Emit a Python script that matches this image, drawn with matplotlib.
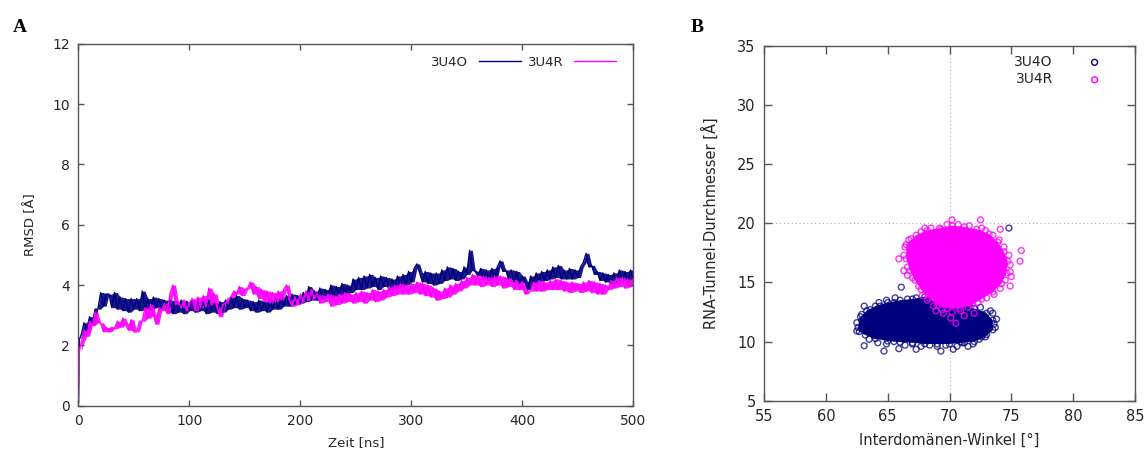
#!/usr/bin/env python3
"""RMSD trajectory (A) and tunnel diameter vs. interdomain angle (B) for 3U4O / 3U4R."""
import matplotlib
matplotlib.use("Agg")
import matplotlib.pyplot as plt
import numpy as np

NAVY = "#00007f"
MAGENTA = "#ff00ff"
TXT = "#262626"
SPINE = "#555555"

# ---- panel A: RMSD over time (values read every 2.5 ns) ----
time_start = [0.0, 0.8]
time_step = 2.5
rmsd_3u4o_start = [0.1, 2.2]
rmsd_3u4r_start = [0.1, 1.8]
rmsd_3u4o = [
    2.35, 2.75, 2.5, 2.95, 2.7, 3.2, 3.2, 3.75, 3.3, 3.7,
    3.7, 3.25, 3.75, 3.2, 3.6, 3.15, 3.55, 3.1, 3.55, 3.2,
    3.55, 3.15, 3.8, 3.2, 3.55, 3.2, 3.6, 3.25, 3.55, 3.2,
    3.5, 3.1, 3.5, 3.05, 3.45, 3.1, 3.5, 3.05, 3.45, 3.15,
    3.5, 3.1, 3.5, 3.15, 3.45, 3.05, 3.5, 3.1, 3.4, 3.05,
    3.45, 3.1, 3.5, 3.2, 3.6, 3.25, 3.65, 3.2, 3.55, 3.25,
    3.5, 3.15, 3.45, 3.1, 3.5, 3.15, 3.45, 3.1, 3.5, 3.2,
    3.55, 3.2, 3.6, 3.3, 3.65, 3.3, 3.7, 3.35, 3.65, 3.4,
    3.75, 3.45, 3.95, 3.5, 3.8, 3.5, 3.9, 3.55, 3.85, 3.6,
    4.0, 3.6, 3.95, 3.65, 4.05, 3.7, 4.0, 3.75, 4.2, 3.85,
    4.25, 3.85, 4.3, 3.9, 4.35, 3.95, 4.25, 3.85, 4.3, 3.95,
    4.25, 3.85, 4.2, 3.9, 4.3, 3.95, 4.35, 4.0, 4.45, 4.1,
    4.55, 4.7, 4.4, 4.1, 4.45, 4.05, 4.4, 4.0, 4.4, 4.05,
    4.5, 4.15, 4.6, 4.2, 4.55, 4.15, 4.45, 4.2, 4.6, 4.35,
    5.15, 4.5, 4.45, 4.3, 4.55, 4.2, 4.5, 4.15, 4.55, 4.2,
    4.6, 4.8, 4.45, 4.5, 4.2, 4.5, 4.1, 4.45, 4.05, 4.3,
    4.1, 3.85, 4.3, 4.05, 4.4, 4.1, 4.45, 4.15, 4.5, 4.2,
    4.6, 4.25, 4.65, 4.2, 4.5, 4.2, 4.55, 4.2, 4.5, 4.25,
    4.6, 4.75, 5.05, 4.6, 4.65, 4.35, 4.45, 4.15, 4.4, 4.1,
    4.35, 4.05, 4.4, 4.1, 4.5, 4.15, 4.45, 4.1, 4.5, 4.2,
]
rmsd_3u4r = [
    2.1, 2.5, 2.3, 2.8, 2.65, 3.1, 2.75, 2.75, 2.45, 2.6,
    2.45, 2.6, 2.55, 2.8, 2.6, 2.9, 2.7, 2.5, 2.85, 2.45,
    2.45, 2.8, 2.8, 3.25, 2.9, 3.35, 3.0, 2.7, 3.25, 3.15,
    3.4, 3.05, 3.7, 4.0, 3.35, 3.45, 3.25, 3.5, 3.15, 3.4,
    3.55, 3.15, 3.6, 3.25, 3.65, 3.3, 3.9, 3.35, 3.7, 3.25,
    2.95, 3.35, 3.4, 3.55, 3.6, 3.8, 3.7, 3.95, 3.65, 3.85,
    3.9, 4.1, 3.7, 3.95, 3.55, 3.85, 3.45, 3.8, 3.4, 3.75,
    3.45, 3.8, 3.5, 3.85, 4.0, 3.5, 3.3, 3.6, 3.35, 3.7,
    3.45, 3.8, 3.5, 3.85, 3.55, 3.7, 3.4, 3.65, 3.45, 3.7,
    3.3, 3.65, 3.35, 3.7, 3.4, 3.75, 3.45, 3.7, 3.4, 3.75,
    3.45, 3.8, 3.4, 3.75, 3.5, 3.85, 3.45, 3.8, 3.5, 3.85,
    3.6, 3.95, 3.65, 4.0, 3.7, 4.05, 3.7, 4.0, 3.7, 4.05,
    3.75, 4.1, 3.7, 4.05, 3.65, 4.0, 3.6, 3.9, 3.5, 3.8,
    3.55, 3.9, 3.6, 4.0, 3.7, 4.05, 3.8, 4.15, 3.9, 4.25,
    4.0, 4.35, 4.0, 4.3, 3.95, 4.3, 4.0, 4.25, 3.95, 4.3,
    4.0, 4.3, 3.9, 4.25, 3.95, 4.2, 3.85, 4.15, 3.85, 4.1,
    3.7, 3.8, 3.8, 4.1, 3.8, 4.15, 3.8, 4.1, 3.85, 4.15,
    3.85, 4.2, 3.85, 4.15, 3.8, 4.1, 3.75, 4.1, 3.8, 4.05,
    3.75, 4.1, 3.8, 4.15, 3.75, 4.1, 3.7, 4.05, 3.7, 4.0,
    3.85, 4.15, 3.9, 4.25, 3.95, 4.25, 3.9, 4.2, 3.95, 4.2,
]

# ---- panel B: dense cloud outlines + scattered edge/outlier frames ----
o_hull_x = [62.6, 62.8, 63.3, 64.0, 65.0, 66.0, 67.0, 68.0, 69.0, 70.0, 71.0, 72.0, 73.0, 73.5,
            73.5, 72.9, 72.0, 71.0, 70.0, 69.0, 68.0, 67.0, 66.0, 65.0, 64.0, 63.2, 62.7]
o_hull_y = [11.2, 12.1, 12.6, 13.0, 13.3, 13.5, 13.6, 13.8, 13.7, 13.4, 13.1, 12.8, 12.4, 11.8,
            11.0, 10.4, 10.0, 9.9, 9.8, 9.8, 9.8, 9.9, 9.95, 10.05, 10.25, 10.55, 10.85]
o_edge_x = [63.5, 64.2, 64.9, 65.5, 66.4, 67.0, 67.7, 68.4, 69.0, 69.7, 70.6, 71.2, 71.9, 72.4,
            73.0, 73.7, 73.8, 73.3, 72.5, 71.6, 62.5, 62.5, 62.9, 63.6, 64.4, 64.9, 65.5, 66.6,
            67.3, 68.5, 69.5, 63.9, 62.9, 72.7, 70.9]
o_edge_y = [10.2, 9.9, 9.8, 10.0, 9.7, 9.8, 9.6, 9.7, 9.6, 9.7, 9.6, 9.9, 9.8, 10.2,
            10.6, 11.2, 11.9, 12.6, 12.9, 13.2, 10.9, 11.6, 12.3, 12.7, 13.0, 13.5, 13.3, 13.6,
            13.7, 13.8, 13.7, 10.5, 11.8, 12.3, 10.0]
o_out_x = [63.1, 64.7, 65.9, 67.3, 69.3, 70.3, 71.5, 66.1, 74.8, 63.1, 64.3, 73.5, 73.6, 73.2, 65.6, 72.6]
o_out_y = [9.65, 9.2, 9.4, 9.35, 9.2, 9.35, 9.6, 14.6, 19.6, 13.0, 13.3, 12.4, 11.5, 11.1, 13.7, 10.4]

r_hull_x = [66.5, 67.3, 68.2, 69.2, 70.2, 71.2, 72.2, 73.2, 73.9, 74.4, 74.7, 74.6, 74.2, 73.5,
            72.6, 71.8, 70.8, 69.8, 69.0, 68.3, 67.7, 67.2, 66.8, 66.5]
r_hull_y = [18.2, 19.0, 19.4, 19.6, 19.8, 19.7, 19.5, 19.1, 18.4, 17.6, 16.8, 15.8, 14.9, 14.2,
            13.6, 13.1, 12.8, 12.8, 13.1, 13.7, 14.4, 15.2, 16.0, 17.0]
r_edge_x = [66.3, 66.4, 66.9, 67.7, 68.5, 69.3, 69.8, 70.7, 71.6, 72.6, 73.5, 74.0, 74.4, 74.8,
            74.9, 74.9, 74.5, 74.1, 73.6, 73.0, 72.3, 71.5, 70.9, 70.2, 69.4, 68.7, 68.2, 67.8,
            67.5, 67.0, 66.6, 68.0, 72.9]
r_edge_y = [17.3, 18.0, 18.7, 19.3, 19.6, 19.5, 19.9, 19.9, 19.8, 19.6, 19.0, 18.6, 18.0, 17.3,
            16.5, 15.9, 15.2, 14.5, 14.0, 13.7, 13.3, 12.9, 12.6, 12.5, 12.7, 13.0, 13.5, 13.9,
            14.7, 15.4, 16.3, 19.6, 19.4]
r_out_x = [65.9, 70.2, 72.5, 75.8, 75.7, 74.1, 66.3, 66.6, 70.5, 70.1, 71.2, 68.9, 74.9, 66.7, 75.0, 72.0, 69.5]
r_out_y = [17.0, 20.3, 20.3, 17.7, 16.8, 19.5, 16.0, 15.6, 11.55, 12.0, 12.2, 12.6, 14.7, 18.6, 15.5, 12.4, 12.4]

plt.rcParams["font.family"] = ["DejaVu Sans"]


def style_axes(ax, size, ticklen):
    for sp in ax.spines.values():
        sp.set_color(SPINE)
        sp.set_linewidth(1.0)
    ax.tick_params(direction="in", top=True, right=True, length=ticklen, width=1.0,
                   color=SPINE, labelcolor=TXT, labelsize=size, pad=6)


def noisy_trace(ax, t, y, color, label):
    # fill the jitter envelope so the trace reads as a dense noisy band
    lo = np.minimum(y[:-1], y[1:])
    hi = np.maximum(y[:-1], y[1:])
    tm = t[1:]
    ax.fill_between(tm[1:], lo[1:], hi[1:], color=color, lw=0, alpha=0.9)
    ax.plot(t, y, color=color, lw=1.0, label=label)


fig = plt.figure(figsize=(11.47, 4.55), dpi=100)

# panel A
axA = fig.add_axes([0.0684, 0.1084, 0.4837, 0.7956])
tA = np.concatenate([time_start, time_step * np.arange(1, len(rmsd_3u4o) + 1)])
yo = np.concatenate([rmsd_3u4o_start, rmsd_3u4o])
yr = np.concatenate([rmsd_3u4r_start, rmsd_3u4r])
noisy_trace(axA, tA, yo, NAVY, "3U4O")
noisy_trace(axA, tA, yr, MAGENTA, "3U4R")
axA.set_xlim(0, 500)
axA.set_ylim(0, 12)
axA.set_xticks(range(0, 501, 100))
axA.set_yticks(range(0, 13, 2))
style_axes(axA, 10, 4)
axA.set_xlabel("Zeit [ns]", fontsize=9.5, color=TXT, labelpad=6)
axA.set_ylabel("RMSD [Å]", fontsize=9.5, color=TXT, labelpad=11)
axA.legend(loc="upper right", ncol=2, markerfirst=False, frameon=False, fontsize=9.5,
           handlelength=3.2, handletextpad=0.8, columnspacing=0.55,
           bbox_to_anchor=(0.991, 1.0), labelcolor=TXT)

# panel B
axB = fig.add_axes([0.6661, 0.1193, 0.3235, 0.7796])
axB.axvline(70, color="#aaaaaa", lw=0.8, ls=(0, (1, 2.5)), zorder=0)
axB.axhline(20, color="#aaaaaa", lw=0.8, ls=(0, (1, 2.5)), zorder=0)
axB.fill(o_hull_x, o_hull_y, color=NAVY, lw=0, zorder=2)
axB.scatter(o_hull_x + o_edge_x + o_out_x, o_hull_y + o_edge_y + o_out_y, s=18,
            facecolors="none", edgecolors=NAVY, linewidths=1.0, alpha=0.75, zorder=2)
axB.fill(r_hull_x, r_hull_y, color=MAGENTA, lw=0, zorder=3)
axB.scatter(r_hull_x + r_edge_x + r_out_x, r_hull_y + r_edge_y + r_out_y, s=18,
            facecolors="none", edgecolors=MAGENTA, linewidths=1.0, alpha=0.8, zorder=3)
# legend handles
axB.scatter([], [], s=18, facecolors="none", edgecolors=NAVY, linewidths=1.0, label="3U4O")
axB.scatter([], [], s=18, facecolors="none", edgecolors=MAGENTA, linewidths=1.0, label="3U4R")
axB.set_xlim(55, 85)
axB.set_ylim(5, 35)
axB.set_xticks(range(55, 86, 5))
axB.set_yticks(range(5, 36, 5))
style_axes(axB, 10.5, 6)
axB.set_xlabel("Interdomänen-Winkel [°]", fontsize=10.5, color=TXT, labelpad=6)
axB.set_ylabel("RNA-Tunnel-Durchmesser [Å]", fontsize=10.5, color=TXT, labelpad=13)
axB.legend(loc="upper right", markerfirst=False, frameon=False, fontsize=10,
           handletextpad=2.0, labelspacing=0.25, bbox_to_anchor=(0.962, 1.01), labelcolor=TXT)

fig.text(0.011, 0.93, "A", fontsize=14, fontweight="bold", family="Liberation Serif", color="black")
fig.text(0.602, 0.93, "B", fontsize=14, fontweight="bold", family="Liberation Serif", color="black")

fig.savefig("out.png", dpi=100)
